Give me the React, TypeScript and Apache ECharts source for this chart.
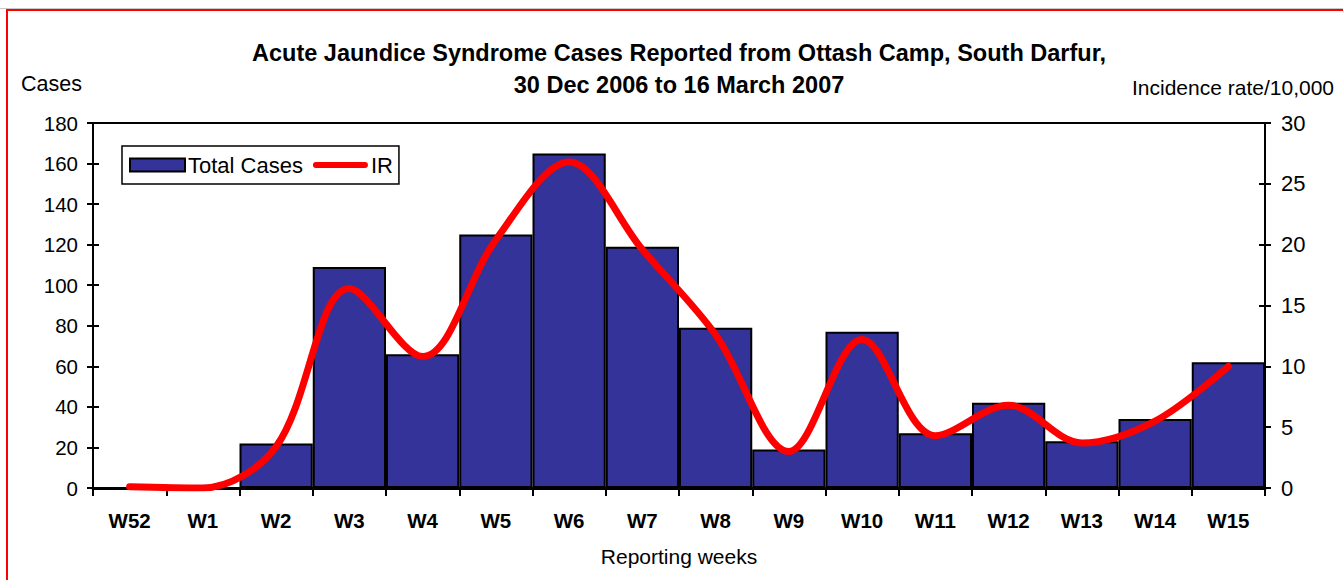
import React, { useEffect, useRef } from "react";
import * as echarts from "echarts";

const weeks = ["W52", "W1", "W2", "W3", "W4", "W5", "W6", "W7", "W8", "W9", "W10", "W11", "W12", "W13", "W14", "W15"];
const totalCases = [0, 0, 22, 109, 66, 125, 165, 119, 79, 19, 77, 27, 42, 23, 34, 62];
const incidenceRate = [0.1, 0, 3.4, 16.4, 10.8, 20.4, 26.8, 19.6, 12.6, 3.0, 12.2, 4.3, 6.8, 3.7, 5.5, 10.0];

const FONT = "Arial, 'Liberation Sans', sans-serif";
const LINE_ICON = "path://M3,0 L52,0 A3,3 0 0 1 52,6 L3,6 A3,3 0 0 1 3,0 Z";

export default function App() {
  const ref = useRef<HTMLDivElement>(null);
  useEffect(() => {
    document.body.style.margin = "0";
    const chart = echarts.init(ref.current!, null, { renderer: "svg" });
    const gridPos = { left: 93, right: 78, top: 123, bottom: 92 };
    chart.setOption({
      animation: false,
      backgroundColor: "#fff",
      textStyle: { fontFamily: FONT, color: "#000" },
      title: {
        text: "Acute Jaundice Syndrome Cases Reported from Ottash Camp, South Darfur,\n30 Dec 2006 to 16 March 2007",
        left: 679,
        top: 37,
        padding: 0,
        textAlign: "center",
        textStyle: { fontFamily: FONT, fontSize: 23.5, fontWeight: "bold", color: "#000", lineHeight: 32 },
      },
      legend: {
        left: 122,
        top: 146,
        orient: "horizontal",
        itemWidth: 55,
        itemHeight: 13,
        itemGap: 10,
        padding: [8, 6, 8, 7],
        borderColor: "#000",
        borderWidth: 1.5,
        textStyle: { fontFamily: FONT, fontSize: 22, color: "#000", padding: [0, 0, 0, -2] },
        data: [
          { name: "Total Cases", icon: "rect", itemStyle: { color: "#333399", borderColor: "#000", borderWidth: 2 } },
          { name: "IR", icon: LINE_ICON, itemStyle: { color: "#ff0000", borderWidth: 0 } },
        ],
      },
      grid: [
        { ...gridPos, show: true, borderColor: "#000", borderWidth: 2, backgroundColor: "transparent" },
        { ...gridPos, show: false },
      ],
      xAxis: [
        {
          type: "category",
          gridIndex: 0,
          data: weeks,
          boundaryGap: true,
          axisLine: { lineStyle: { color: "#000", width: 3 } },
          axisTick: { show: true, length: 8, lineStyle: { color: "#000", width: 2 } },
          axisLabel: { fontFamily: FONT, fontSize: 20.5, fontWeight: "bold", color: "#000", margin: 22 },
          name: "Reporting weeks",
          nameLocation: "middle",
          nameGap: 58,
          nameTextStyle: { fontFamily: FONT, fontSize: 21, color: "#000" },
        },
        {
          type: "category",
          gridIndex: 1,
          data: weeks,
          show: false,
        },
      ],
      yAxis: [
        {
          type: "value",
          gridIndex: 0,
          position: "left",
          min: 0,
          max: 180,
          interval: 20,
          splitLine: { show: false },
          axisLine: { show: true, lineStyle: { color: "#000", width: 2 } },
          axisTick: { show: true, length: 6, lineStyle: { color: "#000", width: 2 } },
          axisLabel: { fontFamily: FONT, fontSize: 20.5, color: "#000", margin: 15 },
          name: "Cases",
          nameLocation: "end",
          nameGap: 39,
          nameTextStyle: { fontFamily: FONT, fontSize: 21.5, color: "#000", align: "right", verticalAlign: "middle", padding: [0, 11, 0, 0] },
        },
        {
          type: "value",
          gridIndex: 0,
          position: "right",
          min: 0,
          max: 30,
          interval: 5,
          splitLine: { show: false },
          axisLine: { show: true, lineStyle: { color: "#000", width: 2 } },
          axisTick: { show: true, length: 6, lineStyle: { color: "#000", width: 2 } },
          axisLabel: { fontFamily: FONT, fontSize: 22, color: "#000", margin: 16 },
          name: "Incidence rate/10,000",
          nameLocation: "end",
          nameGap: 36,
          nameTextStyle: { fontFamily: FONT, fontSize: 21, color: "#000", align: "center", verticalAlign: "middle", padding: [0, 64, 0, 0] },
        },
        {
          type: "value",
          gridIndex: 1,
          position: "left",
          min: 0,
          max: 180,
          interval: 20,
          splitLine: { show: false },
          axisLine: { show: false },
          axisTick: { show: true, inside: true, length: 6, lineStyle: { color: "#000", width: 2 } },
          axisLabel: { show: false },
        },
        {
          type: "value",
          gridIndex: 1,
          position: "right",
          min: 0,
          max: 30,
          interval: 5,
          splitLine: { show: false },
          axisLine: { show: false },
          axisTick: { show: true, inside: true, length: 6, lineStyle: { color: "#000", width: 2 } },
          axisLabel: { show: false },
        },
      ],
      series: [
        {
          name: "Total Cases",
          type: "bar",
          xAxisIndex: 0,
          yAxisIndex: 0,
          data: totalCases,
          barCategoryGap: "0%",
          itemStyle: { color: "#333399", borderColor: "#000", borderWidth: 2 },
          z: 2,
        },
        {
          name: "IR",
          type: "line",
          xAxisIndex: 0,
          yAxisIndex: 1,
          data: incidenceRate,
          smooth: 0.34,
          showSymbol: false,
          symbol: "none",
          lineStyle: { color: "#ff0000", width: 7, cap: "round", join: "round" },
          itemStyle: { color: "#ff0000" },
          z: 3,
        },
      ],
      graphic: [
        { type: "line", shape: { x1: 0, y1: 8.5, x2: 1343, y2: 8.5 }, style: { stroke: "#c8c8c8", lineWidth: 1 }, silent: true },
        { type: "polyline", shape: { points: [[7, 580], [7, 10], [1343, 10]] }, style: { stroke: "#ff0000", lineWidth: 2, fill: null }, silent: true },
      ],
    });
    return () => chart.dispose();
  }, []);
  return <div ref={ref} style={{ width: 1343, height: 580, position: "absolute", left: 0, top: 0 }} />;
}
